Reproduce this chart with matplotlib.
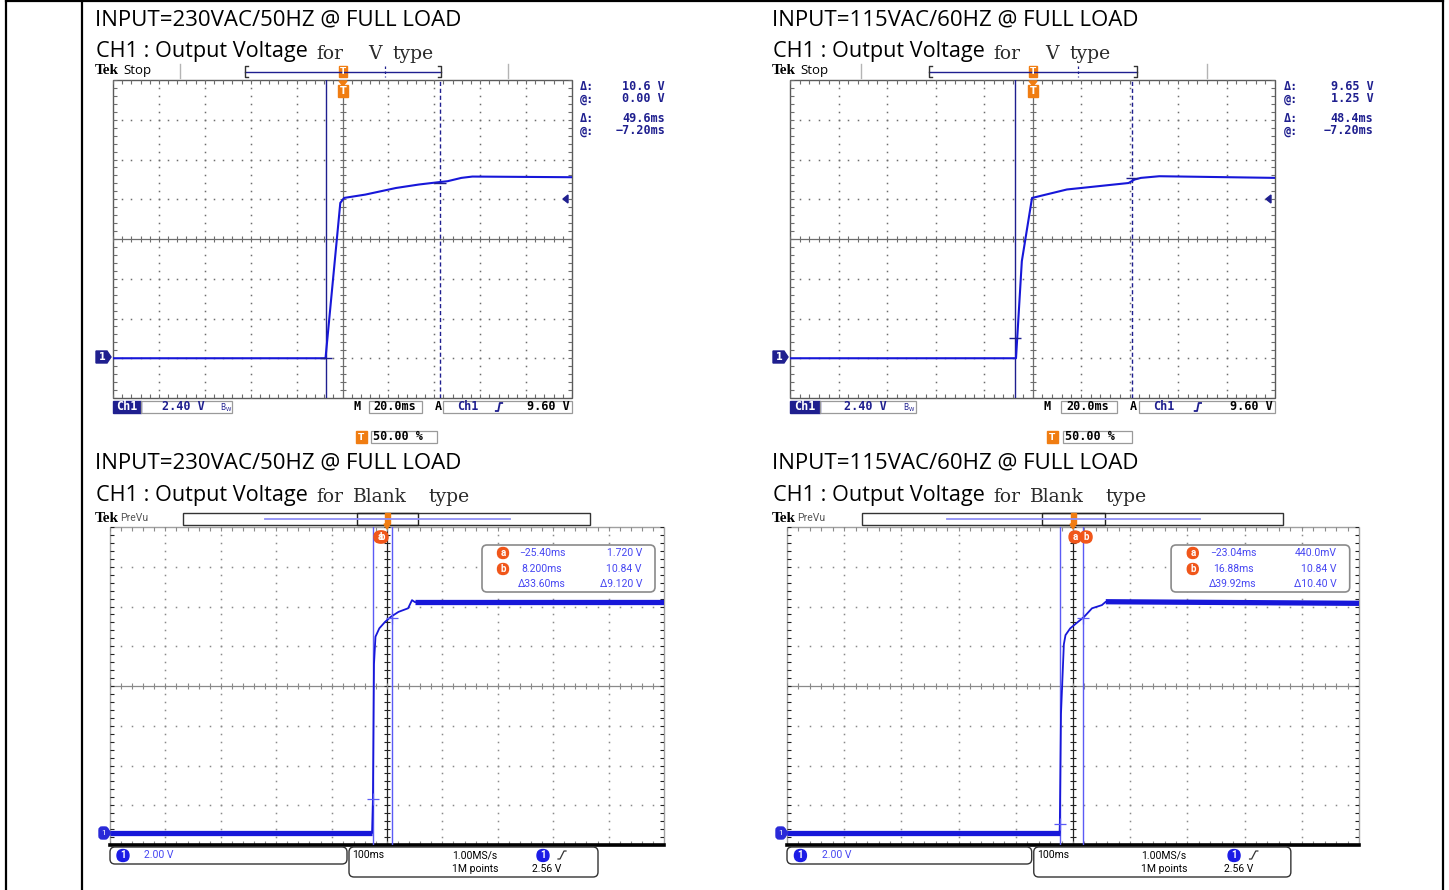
import matplotlib
matplotlib.use("Agg")
import matplotlib.pyplot as plt
import numpy as np
from matplotlib.collections import LineCollection
from matplotlib.patches import Rectangle, FancyBboxPatch, Polygon

W, H = 1449, 890

SANS = ["Open Sans", "DejaVu Sans"]
SERIF = ["DejaVu Serif"]
MONO = ["DejaVu Sans Mono"]
DPO = ["Roboto", "DejaVu Sans"]

NAVY = "#1f1f8f"
TRACE = "#1717d9"
ORANGE = "#f07d12"
RED_O = "#f0561a"
DPO_BLUE = "#4646f2"
CURSOR_B = "#5b5bf5"

# ---- data -----------------------------------------------------------------
input_labels = ["INPUT=230VAC/50HZ @ FULL LOAD", "INPUT=115VAC/60HZ @ FULL LOAD"]
type_labels = ["V", "Blank"]

# V type (TDS, 20 ms/div, 2.40 V/div): time in ms, output in V
v230_t = [-100, -7.4, -0.96, 0.7, 9.9, 23.3, 33.3, 42.5, 45.8, 51.8, 56.6, 100]
v230_v = [0.0, 0.0, 9.38, 9.68, 9.88, 10.28, 10.49, 10.64, 10.69, 10.89, 10.97, 10.93]
v115_t = [-100, -6.8, -4.4, -0.2, 1.0, 14.2, 31.1, 39.6, 42.1, 44.7, 52.3, 100]
v115_v = [0.0, 0.0, 5.86, 9.68, 9.72, 10.19, 10.45, 10.58, 10.79, 10.89, 10.99, 10.89]
v_cursor_t = [(-7.20, 49.6), (-7.20, 48.4)]      # (@ ms, delta ms)
v_cursor_v = [(0.00, 10.6), (1.25, 9.65)]        # (@ V, delta V)

# Blank type (DPO, 100 ms/div, 2.00 V/div)
b230_t = [-500, -27.0, -25.4, -23.5, -20.8, -13.9, -3.4, 6.9, 20.8, 38.1, 45.1, 50.5, 500]
b230_v = [0.0, 0.0, 1.72, 8.5, 9.88, 10.30, 10.63, 10.88, 11.13, 11.31, 11.72, 11.62, 11.62]
b115_t = [-500, -23.5, -23.04, -21.0, -16.0, -13.1, -4.9, 8.9, 19.4, 33.2, 50.5, 57.3, 500]
b115_v = [0.0, 0.0, 0.44, 6.0, 9.5, 9.96, 10.30, 10.63, 10.88, 11.31, 11.47, 11.64, 11.56]
b_cursor_a = [(-25.40, 1.720), (-23.04, 0.440)]
b_cursor_b = [(8.200, 10.84), (16.88, 10.84)]

fig = plt.figure(figsize=(W / 100, H / 100), dpi=100)
ov = fig.add_axes([0, 0, 1, 1], zorder=10)
ov.set_xlim(0, W)
ov.set_ylim(H, 0)
ov.axis("off")


def txt(x, y, s, **kw):
    kw.setdefault("va", "center")
    ov.text(x, y, s, **kw)


def scope_axes(x0, y0, x1, y1, xlim, ylim):
    ax = fig.add_axes([x0 / W, 1 - y1 / H, (x1 - x0) / W, (y1 - y0) / H], zorder=2)
    ax.set_xlim(xlim)
    ax.set_ylim(ylim)
    ax.axis("off")
    return ax


def graticule(ax, wpx, hpx, dot_color, center_colors, border_color, sub=5):
    T = ax.transAxes
    nx, ny = 10, 8
    for i in range(1, nx):
        if i == nx // 2:
            continue
        ys = np.linspace(0, 1, ny * sub + 1)
        ax.plot(np.full_like(ys, i / nx), ys, ls="none", marker="s", ms=1.1,
                mew=0, color=dot_color, transform=T)
    for j in range(1, ny):
        if j == ny // 2:
            continue
        xs = np.linspace(0, 1, nx * sub + 1)
        ax.plot(xs, np.full_like(xs, j / ny), ls="none", marker="s", ms=1.1,
                mew=0, color=dot_color, transform=T)
    cv, ch = center_colors
    ax.plot([0.5, 0.5], [0, 1], color=cv, lw=0.9, transform=T)
    ax.plot([0, 1], [0.5, 0.5], color=ch, lw=0.9, transform=T)
    tx, ty = 3.0 / wpx, 3.0 / hpx
    segs_v, segs_h = [], []
    for y in np.linspace(0, 1, ny * sub + 1):
        segs_v.append([(0.5 - tx, y), (0.5 + tx, y)])
        segs_v.append([(0, y), (tx * 1.3, y)])
        segs_v.append([(1 - tx * 1.3, y), (1, y)])
    for x in np.linspace(0, 1, nx * sub + 1):
        segs_h.append([(x, 0.5 - ty), (x, 0.5 + ty)])
        segs_h.append([(x, 1), (x, 1 - ty * 1.3)])
        segs_h.append([(x, 0), (x, ty * 1.3)])
    ax.add_collection(LineCollection(segs_v, colors=cv, lw=0.8, transform=T))
    ax.add_collection(LineCollection(segs_h, colors=ch, lw=0.8, transform=T))
    ax.add_patch(Rectangle((0, 0), 1, 1, fill=False, ec=border_color, lw=1.0,
                           transform=T, clip_on=False))


# ---- table frame -------------------------------------------------------------
ov.plot([6, 1443], [1, 1], color="black", lw=1.6)
for x in (6, 82, 1443):
    ov.plot([x, x], [0, H], color="black", lw=1.6)

# ---- headings ----------------------------------------------------------------
cols = [95, 772]
for r, ytop in enumerate([0, 443]):
    for c in range(2):
        x = cols[c]
        txt(x, ytop + 20, input_labels[c], fontsize=16, family=SANS)
        txt(x + 1, ytop + 52, "CH1 : Output Voltage", fontsize=15.6, family=SANS)
        if r == 0:
            words = [("for", 221), (type_labels[r], 273), ("type", 297)]
        else:
            words = [("for", 221), (type_labels[r], 258), ("type", 333)]
        for w_, dx in words:
            txt(x + dx, ytop + 54, w_, fontsize=13.5, family=SERIF, color="#2a2a2a")


# ---- V type scopes (TDS) ---------------------------------------------------------
def rising_edge(x, y, color, s=1.0):
    ov.plot([x - 4 * s, x - 1 * s, x + 1 * s, x + 4 * s], [y + 4, y + 4, y - 4, y - 4],
            color=color, lw=1.3)


def tds_panel(idx, x0, x1, tt, vv):
    y0, y1 = 80, 398
    s = (x1 - x0) / 459.0
    R = lambda rel: x0 + rel * s
    # ground sits one division above the bottom edge
    ax = scope_axes(x0, y0, x1, y1, (-100, 100), (-2.4, 16.8))
    graticule(ax, x1 - x0, y1 - y0, "#6d6d6d", ("#6d6d6d", "#6d6d6d"), "#5a5a5a")
    ax.plot(tt, vv, color=TRACE, lw=1.5, zorder=5)
    tc, dt = v_cursor_t[idx]
    vc, dv = v_cursor_v[idx]
    ax.axvline(tc, color=NAVY, lw=1.0, zorder=4)
    ax.axvline(tc + dt, color=NAVY, lw=1.0, ls=(0, (3, 2)), zorder=4)
    ax.plot([tc, tc + dt], [vc, vc + dv], ls="none", marker="_", ms=9, mew=1.0,
            color=NAVY, zorder=6)

    # header strip
    x = cols[idx]
    txt(x, 71, "Tek", fontsize=11, family=["Liberation Serif"], weight="bold")
    txt(x + 28, 70.5, "Stop", fontsize=9.5, family=SANS)
    for g in (R(67), R(395)):
        ov.plot([g, g], [64, 78], color="#b4b4b4", lw=1.0)
    bl, br = R(132), R(328)
    ov.plot([bl, br], [71.5, 71.5], color=NAVY, lw=1.0)
    ov.plot([bl + 3, bl, bl, bl + 3], [66, 66, 77, 77], color="#333333", lw=1.0)
    ov.plot([br - 3, br, br, br - 3], [66, 66, 77, 77], color="#333333", lw=1.0)
    ov.plot([bl + 0.715 * (br - bl)] * 2, [66, 77], color=NAVY, lw=0.9, ls=(0, (2, 2)))
    tx = R(230)
    ov.add_patch(Rectangle((tx - 4, 66), 8, 11, color=ORANGE))
    txt(tx, 71.5, "T", fontsize=6.5, color="white", ha="center", weight="bold")
    ov.add_patch(Polygon([(tx - 4, 81), (tx + 4, 81), (tx, 86)], color=ORANGE))
    ov.add_patch(Rectangle((tx - 5, 85), 10, 12, color=ORANGE))
    txt(tx, 91, "T", fontsize=7, color="white", ha="center", weight="bold")

    # ground marker and trigger level arrow
    gy = 357
    ov.add_patch(Polygon([(x0 - 17, gy - 6), (x0 - 6, gy - 6), (x0 - 2, gy),
                          (x0 - 6, gy + 6), (x0 - 17, gy + 6)], color=NAVY))
    txt(x0 - 11, gy, "1", fontsize=7, color="white", ha="center", weight="bold")
    ov.add_patch(Polygon([(x1 - 9, 199), (x1 - 4, 195), (x1 - 4, 203)], color=NAVY))

    # readouts
    rows = [("Δ:", "%.3g V" % dv if dv < 10 else "%.1f V" % dv, 86),
            ("@:", "%.2f V" % vc, 99),
            ("Δ:", "%.1fms" % dt, 118),
            ("@:", "−%.2fms" % abs(tc), 131)]
    for lab, val, yy in rows:
        txt(R(467), yy, lab, fontsize=8.5, family=MONO, weight="bold", color=NAVY)
        txt(R(552), yy, val, fontsize=8.5, family=MONO, weight="bold", color=NAVY, ha="right")

    # status bar
    by = 407
    ov.add_patch(Rectangle((x0, by - 6), 28 * s, 12, color=NAVY))
    txt(x0 + 14 * s, by, "Ch1", fontsize=8.5, family=MONO, weight="bold", color="white", ha="center")
    ov.add_patch(Rectangle((x0 + 28 * s, by - 6), 91 * s, 12, fill=False, ec="#9a9a9a", lw=0.9))
    txt(R(92), by, "2.40 V", fontsize=8.5, family=MONO, weight="bold", color=NAVY, ha="right")
    txt(R(107), by + 1, r"$\mathregular{B_W}$", fontsize=5.5, color=NAVY)
    txt(R(240), by, "M", fontsize=8.5, family=MONO, weight="bold")
    ov.add_patch(Rectangle((R(256), by - 6), 53 * s, 12, fill=False, ec="#9a9a9a", lw=0.9))
    txt(R(282), by, "20.0ms", fontsize=8.5, family=MONO, weight="bold", ha="center")
    txt(R(322), by, "A", fontsize=8.5, family=MONO, weight="bold")
    ov.add_patch(Rectangle((R(330), by - 6), x1 - R(330), 12, fill=False, ec="#9a9a9a", lw=0.9))
    txt(R(344), by, "Ch1", fontsize=8.5, family=MONO, weight="bold", color=NAVY)
    rising_edge(R(386), by, NAVY, 0.8)
    txt(x1 - 2, by, "9.60 V", fontsize=8.5, family=MONO, weight="bold", ha="right")
    ty = 437
    ov.add_patch(Rectangle((R(243), ty - 6), 11, 12, color=ORANGE))
    txt(R(243) + 5.5, ty, "T", fontsize=6.5, color="white", ha="center", weight="bold")
    ov.add_patch(Rectangle((R(258), ty - 6), 66 * s, 12, fill=False, ec="#9a9a9a", lw=0.9))
    txt(R(260), ty, "50.00 %", fontsize=8.5, family=MONO, weight="bold")


tds_panel(0, 113, 572, v230_t, v230_v)
tds_panel(1, 790, 1275, v115_t, v115_v)


# ---- Blank type scopes (DPO) ------------------------------------------------------
def circ(x, y, s, color, r=6):
    ov.add_patch(FancyBboxPatch((x - r, y - r), 2 * r, 2 * r,
                                boxstyle="round,pad=0,rounding_size=%g" % r, color=color))
    txt(x, y, s, fontsize=7, color="white", ha="center", family=DPO, weight="bold")


def dpo_panel(idx, x0, x1, tt, vv):
    y0, y1 = 527, 845
    s = (x1 - x0) / 554.0
    R = lambda rel: x0 + rel * s
    ax = scope_axes(x0, y0, x1, y1, (-500, 500), (-0.6, 15.4))
    graticule(ax, x1 - x0, y1 - y0, "#8a8a8a", ("#222222", "#8a8a8a"), "#a0a0a0")
    ax.plot([0, 1], [0, 0], color="black", lw=2.6, transform=ax.transAxes, clip_on=False)
    ta, va = b_cursor_a[idx]
    tb, vb = b_cursor_b[idx]
    ax.axvline(ta, color=CURSOR_B, lw=1.0, zorder=4)
    ax.axvline(tb, color=CURSOR_B, lw=1.0, zorder=4)
    ax.plot(tt, vv, color=TRACE, lw=1.3, zorder=5)
    ax.plot(tt[:2], vv[:2], color=TRACE, lw=3.8, zorder=5, solid_capstyle="butt")
    ax.plot(tt[-2:], vv[-2:], color=TRACE, lw=3.8, zorder=5, solid_capstyle="butt")
    ax.plot([ta, tb], [va, vb], ls="none", marker="+", ms=9, mew=0.9,
            color=CURSOR_B, zorder=6)

    x = cols[idx]
    txt(x, 519, "Tek", fontsize=11, family=["Liberation Serif"], weight="bold")
    txt(x + 25, 518, "PreVu", fontsize=7.5, family=DPO, color="#555555")
    ov.add_patch(Rectangle((R(73), 513), (480 - 73) * s, 12, fill=False, ec="#333333", lw=1.0))
    ov.plot([R(155), R(400)], [518.5, 518.5], color="#8f8ff5", lw=1.3)
    ov.add_patch(Rectangle((R(247), 513), 61 * s, 12, fill=False, ec="#222222", lw=1.0))
    tx = R(277)
    ov.add_patch(Rectangle((tx - 2.5, 513), 5, 11, color=ORANGE))
    ov.add_patch(Polygon([(tx - 3, 524), (tx + 3, 524), (tx, 529)], color=ORANGE))
    if idx == 0:
        circ(R(276) - 4, 537, "b", RED_O)
        circ(R(271) - 1, 537, "a", RED_O)
    else:
        circ(R(279) + 11, 537, "b", RED_O)
        circ(R(279), 537, "a", RED_O)

    # readout box
    ov.add_patch(FancyBboxPatch((R(372), 545), 173 * s, 47,
                                boxstyle="round,pad=0,rounding_size=5",
                                fc="white", ec="#8a8a8a", lw=1.2))
    dt = tb - ta
    dv = vb - va
    rows = [("a", "−%.2fms" % abs(ta), ("%.1fmV" % (va * 1000)) if va < 1 else "%.3f V" % va, 553),
            ("b", ("%.3fms" % tb) if tb < 10 else "%.2fms" % tb, "%.2f V" % vb, 569),
            (None, "Δ%.2fms" % dt, ("Δ%.3f V" % dv) if dv < 10 else "Δ%.2f V" % dv, 584)]
    for lab, tv, vv_, yy in rows:
        if lab:
            circ(R(393), yy, lab, RED_O, r=5.5)
        txt(R(432), yy, tv, fontsize=7.5, family=DPO, color=DPO_BLUE, ha="center")
        txt(R(532), yy, vv_, fontsize=7.5, family=DPO, color=DPO_BLUE, ha="right")

    # ground marker
    gy = 833
    ov.add_patch(FancyBboxPatch((x0 - 11, gy - 6), 9, 12,
                                boxstyle="round,pad=0,rounding_size=3", color="#2a2ad8"))
    ov.add_patch(Polygon([(x0 - 3, gy - 5), (x0 + 1, gy), (x0 - 3, gy + 5)], color="#2a2ad8"))
    txt(x0 - 6.5, gy, "1", fontsize=6, color="white", ha="center", family=DPO)

    # bottom info boxes
    ov.add_patch(FancyBboxPatch((x0, 847), 237 * s, 17,
                                boxstyle="round,pad=0,rounding_size=5",
                                fc="white", ec="#333333", lw=1.0))
    ov.add_patch(FancyBboxPatch((R(239), 847), 249 * s, 30,
                                boxstyle="round,pad=0,rounding_size=5",
                                fc="white", ec="#333333", lw=1.0))
    circ(R(13), 855.5, "1", "#1c1ce6", r=6)
    txt(R(34), 855.5, "2.00 V", fontsize=7.5, family=DPO, color=DPO_BLUE)
    txt(R(242), 855.5, "100ms", fontsize=7.5, family=DPO)
    txt(R(365), 855.5, "1.00MS/s", fontsize=7.5, family=DPO, ha="center")
    txt(R(365), 869.5, "1M points", fontsize=7.5, family=DPO, ha="center")
    circ(R(433), 855.5, "1", "#1c1ce6", r=6)
    ov.plot([R(448), R(450), R(454), R(456)], [859, 859, 851, 851], color="#333333", lw=0.9)
    txt(R(437), 869.5, "2.56 V", fontsize=7.5, family=DPO, ha="center")


dpo_panel(0, 110, 664, b230_t, b230_v)
dpo_panel(1, 787, 1359, b115_t, b115_v)

fig.savefig("out.png", dpi=100)
